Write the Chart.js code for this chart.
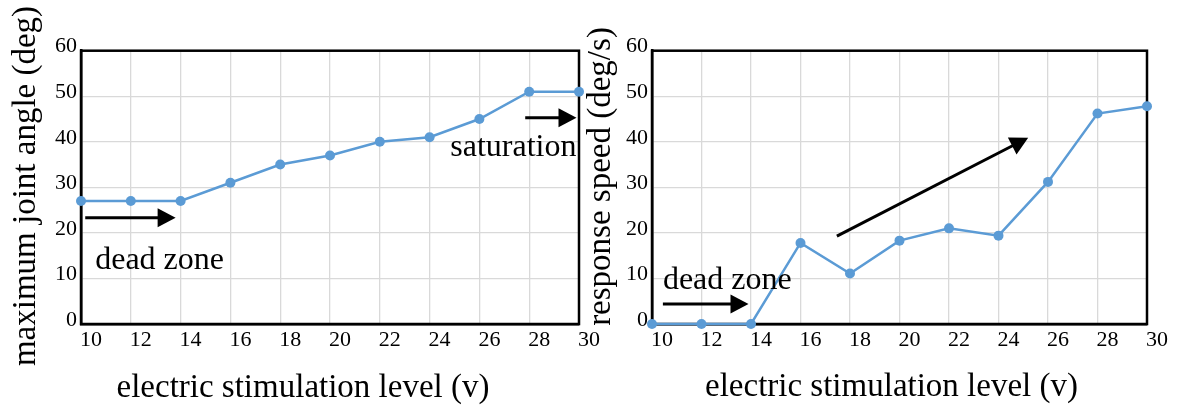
<!DOCTYPE html>
<html>
<head>
<meta charset="utf-8">
<script src="https://cdn.jsdelivr.net/npm/chart.js@4.4.1/dist/chart.umd.min.js"></script>
<style>
  body { margin: 0; background: #fff; }
  .panel { position: absolute; top: 0; height: 408px; }
</style>
</head>
<body>
<div class="panel" style="left:0;width:600px"><canvas id="angleChart"></canvas></div>
<div class="panel" style="left:585px;width:592px"><canvas id="speedChart"></canvas></div>
<script>
const levels = [10, 12, 14, 16, 18, 20, 22, 24, 26, 28, 30];
const maxAngle = [27, 27, 27, 31, 35, 37, 40, 41, 45, 51, 51];
const responseSpeed = [0, 0, 0, 17.8, 11.1, 18.3, 21, 19.4, 31.2, 46.2, 47.8];
const yTicks = [0, 10, 20, 30, 40, 50, 60];

const serif = "'Liberation Serif', 'Times New Roman', serif";
const blue = "#5b9bd5";

// frame, arrows, notes and axis titles
const decor = {
  id: "decor",
  beforeDatasetsDraw(chart) {
    const { ctx, chartArea: a } = chart;
    ctx.save();
    ctx.strokeStyle = "#000";
    ctx.lineWidth = 2.5;
    ctx.strokeRect(a.left, a.top, a.width, a.height);
    ctx.restore();
  },
  afterDatasetsDraw(chart, args, opts) {
    const { ctx } = chart;
    const x = chart.scales.x;
    const y = chart.scales.y;
    ctx.save();
    ctx.fillStyle = "#000";
    ctx.strokeStyle = "#000";
    ctx.lineWidth = 3;
    (opts.arrows || []).forEach((ar) => {
      const x1 = x.getPixelForValue(ar.from[0]);
      const y1 = y.getPixelForValue(ar.from[1]);
      const x2 = x.getPixelForValue(ar.to[0]);
      const y2 = y.getPixelForValue(ar.to[1]);
      const ang = Math.atan2(y2 - y1, x2 - x1);
      const len = 18, half = 9.5;
      const bx = x2 - len * Math.cos(ang);
      const by = y2 - len * Math.sin(ang);
      ctx.beginPath();
      ctx.moveTo(x1, y1);
      ctx.lineTo(bx + 2 * Math.cos(ang), by + 2 * Math.sin(ang));
      ctx.stroke();
      ctx.beginPath();
      ctx.moveTo(x2, y2);
      ctx.lineTo(bx - half * Math.sin(ang), by + half * Math.cos(ang));
      ctx.lineTo(bx + half * Math.sin(ang), by - half * Math.cos(ang));
      ctx.closePath();
      ctx.fill();
    });
    ctx.font = "32px " + serif;
    ctx.textAlign = "left";
    ctx.textBaseline = "alphabetic";
    (opts.notes || []).forEach((n) => {
      ctx.fillText(n.text, x.getPixelForValue(n.at[0]), y.getPixelForValue(n.at[1]));
    });
    ctx.font = "33px " + serif;
    ctx.textAlign = "center";
    ctx.fillText(opts.xTitle.text, opts.xTitle.cx, opts.xTitle.base);
    ctx.translate(opts.yTitle.base, opts.yTitle.cy);
    ctx.rotate(-Math.PI / 2);
    ctx.fillText(opts.yTitle.text, 0, 0);
    ctx.restore();
  },
};

function makeChart(id, values, box, decorOpts) {
  const ctx = document.getElementById(id);
  return new Chart(ctx, {
    type: "line",
    data: {
      datasets: [
        {
          data: levels.map((lv, i) => ({ x: lv, y: values[i] })),
          borderColor: blue,
          backgroundColor: blue,
          borderWidth: 2.5,
          pointRadius: 5,
          pointHoverRadius: 5,
          pointBorderWidth: 0,
          tension: 0,
          clip: false,
        },
      ],
    },
    options: {
      responsive: true,
      maintainAspectRatio: false,
      animation: false,
      layout: { padding: { top: 50.7, right: box.right, left: 0, bottom: 0 } },
      plugins: {
        legend: { display: false },
        tooltip: { enabled: false },
        decor: decorOpts,
      },
      scales: {
        x: {
          type: "linear",
          min: 10,
          max: 30,
          afterBuildTicks: (s) => { s.ticks = levels.map((v) => ({ value: v })); },
          afterFit: (s) => { s.height = 84; },
          ticks: {
            font: { family: serif, size: 22 },
            color: "#000",
            padding: 3,
            labelOffset: 10,
            maxRotation: 0,
            autoSkip: false,
          },
          grid: { color: "#d9d9d9", lineWidth: 1.3, drawTicks: false },
          border: { color: "#000", width: 2.5 },
        },
        y: {
          min: 0,
          max: 60,
          afterBuildTicks: (s) => { s.ticks = yTicks.map((v) => ({ value: v })); },
          afterFit: (s) => { s.width = box.yWidth; },
          ticks: {
            font: { family: serif, size: 22 },
            color: "#000",
            padding: 4,
            labelOffset: -4,
          },
          grid: { color: "#d9d9d9", lineWidth: 1.3, drawTicks: false },
          border: { color: "#000", width: 2.5 },
        },
      },
    },
    plugins: [decor],
  });
}

makeChart("angleChart", maxAngle, { yWidth: 81, right: 21 }, {
  arrows: [
    { from: [10.17, 23.3], to: [13.8, 23.3] },
    { from: [27.84, 45.3], to: [29.9, 45.3] },
  ],
  notes: [
    { text: "dead zone", at: [10.57, 12.1] },
    { text: "saturation", at: [24.83, 36.9] },
  ],
  xTitle: { text: "electric stimulation level (v)", cx: 303, base: 397 },
  yTitle: { text: "maximum joint angle (deg)", base: 35, cy: 186 },
});

makeChart("speedChart", responseSpeed, { yWidth: 67, right: 30 }, {
  arrows: [
    { from: [17.47, 19.3], to: [25.2, 40.9] },
    { from: [10.44, 4.4], to: [13.9, 4.4] },
  ],
  notes: [{ text: "dead zone", at: [10.44, 7.7] }],
  xTitle: { text: "electric stimulation level (v)", cx: 306.5, base: 396 },
  yTitle: { text: "response speed (deg/s)", base: 25, cy: 176.5 },
});
</script>
</body>
</html>
